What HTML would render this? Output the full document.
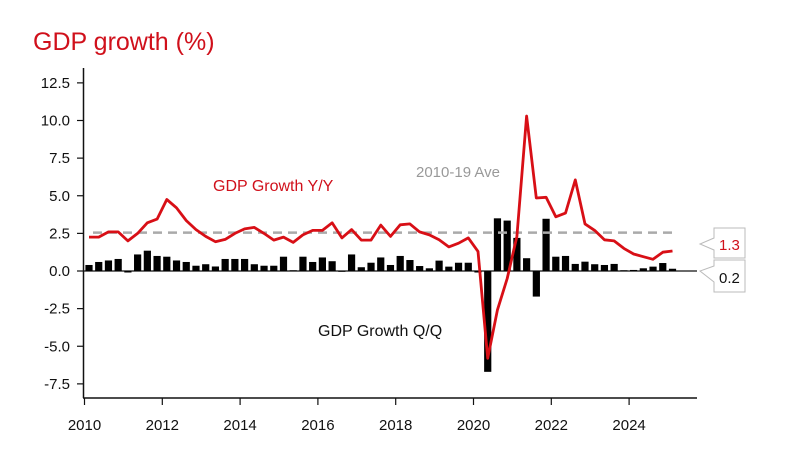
<!DOCTYPE html>
<html><head><meta charset="utf-8"><style>
html,body{margin:0;padding:0;background:#fff;}
svg{display:block;font-family:"Liberation Sans","DejaVu Sans",sans-serif;}
</style></head><body>
<svg id="chart" width="800" height="463" viewBox="0 0 800 463">
<text x="33" y="50" font-size="25" fill="#d0101b">GDP growth (%)</text>
<g id="axes"></g>
<g id="bars"></g>
<g id="lines"></g>
<text x="213" y="191" font-size="16" fill="#d0101b">GDP Growth Y/Y</text>
<text x="416" y="177" font-size="15" fill="#999">2010-19 Ave</text>
<text x="318" y="336" font-size="16" fill="#111">GDP Growth Q/Q</text>
<g>
<path d="M714,228 L745,228 L745,258 L714,258 L714,250 L700,244 L714,238 Z" fill="#fff" stroke="#bbb"/>
<text x="719" y="250" font-size="15" fill="#d0101b">1.3</text></g>
<g>
<path d="M714,260 L745,260 L745,292 L714,292 L714,282 L700,271 L714,266 Z" fill="#fff" stroke="#bbb"/>
<text x="719" y="283" font-size="15" fill="#111">0.2</text></g>
</svg>
<script>
const yTicks=[12.5,10.0,7.5,5.0,2.5,0.0,-2.5,-5.0,-7.5];
const yearTicks=[2010,2012,2014,2016,2018,2020,2022,2024];
const qoq=[0.4,0.6,0.7,0.8,-0.1,1.1,1.35,1.0,0.95,0.7,0.6,0.35,0.45,0.3,0.8,0.8,0.8,0.45,0.35,0.35,0.95,0.05,0.95,0.6,0.9,0.65,0.0,1.1,0.25,0.55,0.9,0.4,1.0,0.73,0.33,0.18,0.69,0.29,0.55,0.55,-0.1,-6.7,3.5,3.35,2.2,0.85,-1.7,3.47,0.95,1.0,0.47,0.62,0.45,0.4,0.47,0.05,0.07,0.18,0.29,0.53,0.15];
const yoy=[2.25,2.25,2.6,2.6,2.0,2.5,3.2,3.45,4.75,4.2,3.35,2.75,2.3,1.95,2.1,2.5,2.8,2.9,2.5,2.05,2.25,1.9,2.4,2.7,2.7,3.2,2.2,2.75,2.05,2.05,3.05,2.3,3.07,3.13,2.6,2.4,2.07,1.6,1.85,2.2,1.3,-5.8,-2.6,-0.5,2.3,10.3,4.85,4.9,3.6,3.85,6.05,3.13,2.7,2.07,2.0,1.5,1.13,0.95,0.78,1.25,1.33];
const avg=[2.55];
const NS='http://www.w3.org/2000/svg';
const yS=v=>271-v*15.05;
const xYear=y=>84.5+(y-2010)*38.9;
const xQ=i=>xYear(2010)+4.5+i*9.725;
function mk(t,a,p){const e=document.createElementNS(NS,t);for(const k in a)e.setAttribute(k,a[k]);p.appendChild(e);return e;}
const ax=document.getElementById('axes');
const yl=mk('line',{x1:83.5,y1:68,x2:83.5,y2:398,stroke:'#111','stroke-width':1.5},ax);


const xl=mk('line',{x1:83,y1:398,x2:697,y2:398,stroke:'#111','stroke-width':1.5},ax);


const zl=mk('line',{x1:83,y1:271,x2:697,y2:271,stroke:'#111','stroke-width':1.2},ax);


yTicks.forEach(v=>{const y=yS(v);
mk('line',{x1:77,y1:y,x2:83,y2:y,stroke:'#111','stroke-width':1.2},ax);
const t=mk('text',{x:70,y:y+5,'font-size':15,'text-anchor':'end',fill:'#111'},ax);t.textContent=v.toFixed(1);

});
yearTicks.forEach(yr=>{const x=xYear(yr);
mk('line',{x1:x,y1:398,x2:x,y2:405,stroke:'#111','stroke-width':1.2},ax);
const t=mk('text',{x:x,y:430,'font-size':15,'text-anchor':'middle',fill:'#111'},ax);t.textContent=yr;

});
const bg=document.getElementById('bars');
qoq.forEach((v,i)=>{const y0=yS(0),y1=yS(v);
const r=mk('rect',{x:xQ(i)-3.6,y:Math.min(y0,y1),width:7.2,height:Math.max(Math.abs(y1-y0),0.8),fill:'#000'},bg);

});
const lg=document.getElementById('lines');
const av=mk('line',{x1:93,y1:yS(avg[0]),x2:676,y2:yS(avg[0]),stroke:'#aaa','stroke-width':2.5,'stroke-dasharray':'9,6'},lg);


const pl=mk('polyline',{points:yoy.map((v,i)=>xQ(i).toFixed(1)+','+yS(v).toFixed(1)).join(' '),fill:'none',stroke:'#d80f16','stroke-width':2.8,'stroke-linejoin':'round'},lg);


</script>
</body></html>
